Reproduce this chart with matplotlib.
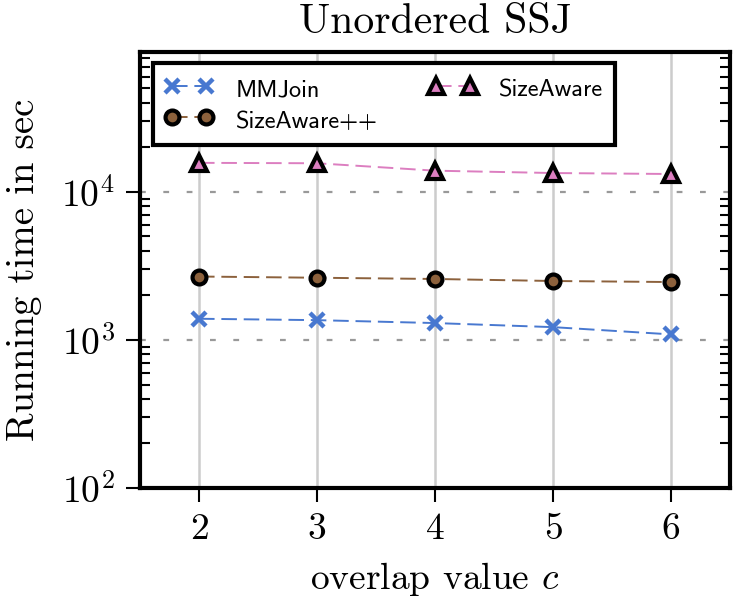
import matplotlib
matplotlib.use("Agg")
import matplotlib.pyplot as plt
from matplotlib.ticker import LogLocator, NullFormatter

overlap = [2, 3, 4, 5, 6]
mmjoin = [1390, 1360, 1300, 1220, 1090]
sizeaware = [15700, 15600, 13900, 13400, 13200]
sizeaware_pp = [2680, 2630, 2580, 2500, 2460]

plt.rcParams['font.family'] = ['cmr10', 'DejaVu Serif']
plt.rcParams['mathtext.fontset'] = 'cm'
plt.rcParams['axes.formatter.use_mathtext'] = True

fig = plt.figure(figsize=(7.34, 6.13), dpi=100)
ax = fig.add_axes([140/734, 1-488/613, 590/734, 436/613])

blue = '#4878d0'
pink = '#dc7ec0'
brown = '#8c613c'

dash = (0, (8, 3.5))
ax.plot(overlap, mmjoin, color=blue, ls=dash, lw=1.4, marker='x', ms=10, mew=3.2,
        label='MMJoin', zorder=5)
ax.plot(overlap, sizeaware_pp, color=brown, ls=dash, lw=1.4, marker='o', ms=10,
        mfc=brown, mec='black', mew=3, label='SizeAware++', zorder=5)
ax.plot(overlap, sizeaware, color=pink, ls=dash, lw=1.4, marker='^', ms=11,
        mfc=pink, mec='black', mew=3, label='SizeAware', zorder=5)

ax.set_yscale('log')
ax.set_ylim(100, 88000)
ax.set_xlim(1.5, 6.5)
ax.set_xticks(overlap)
ax.set_yticks([1e2, 1e3, 1e4])
ax.yaxis.set_minor_locator(LogLocator(base=10, subs=range(2, 10), numticks=20))
ax.yaxis.set_minor_formatter(NullFormatter())

for x in overlap:
    ax.axvline(x, color='#cccccc', lw=1.8, zorder=1)
for y in [1e3, 1e4]:
    ax.axhline(y, color='#999999', lw=1.6, ls=(0, (2.6, 7.9)), zorder=1)

for s in ax.spines.values():
    s.set_linewidth(3)
    s.set_zorder(10)

ax.tick_params(axis='both', which='major', direction='out', length=10, width=1.5,
               labelsize=27, pad=8)
ax.tick_params(axis='y', which='minor', direction='in', length=7, width=1.5,
               left=True, right=True)
ax.tick_params(axis='y', which='major', right=False)

ax.set_title('Unordered SSJ', fontsize=30, y=1.0, pad=14)
ax.set_xlabel('overlap value $c$', fontsize=27, labelpad=10)
ax.set_ylabel('Running time in sec', fontsize=28, labelpad=14)

handles, labels = ax.get_legend_handles_labels()
leg = ax.legend(handles, labels,
                ncol=2, loc='upper left', bbox_to_anchor=(13/590, 1-11/436),
                borderaxespad=0, numpoints=2,
                prop={'family': ['cmss10', 'DejaVu Sans'], 'size': 17.5},
                frameon=True, fancybox=False, edgecolor='black', framealpha=1,
                handlelength=2.0, handleheight=1.35, handletextpad=0.9,
                columnspacing=2.1, borderpad=0.5, labelspacing=0.14)
leg.get_frame().set_linewidth(3)
leg.set_zorder(20)

fig.savefig('out.png', dpi=100)
